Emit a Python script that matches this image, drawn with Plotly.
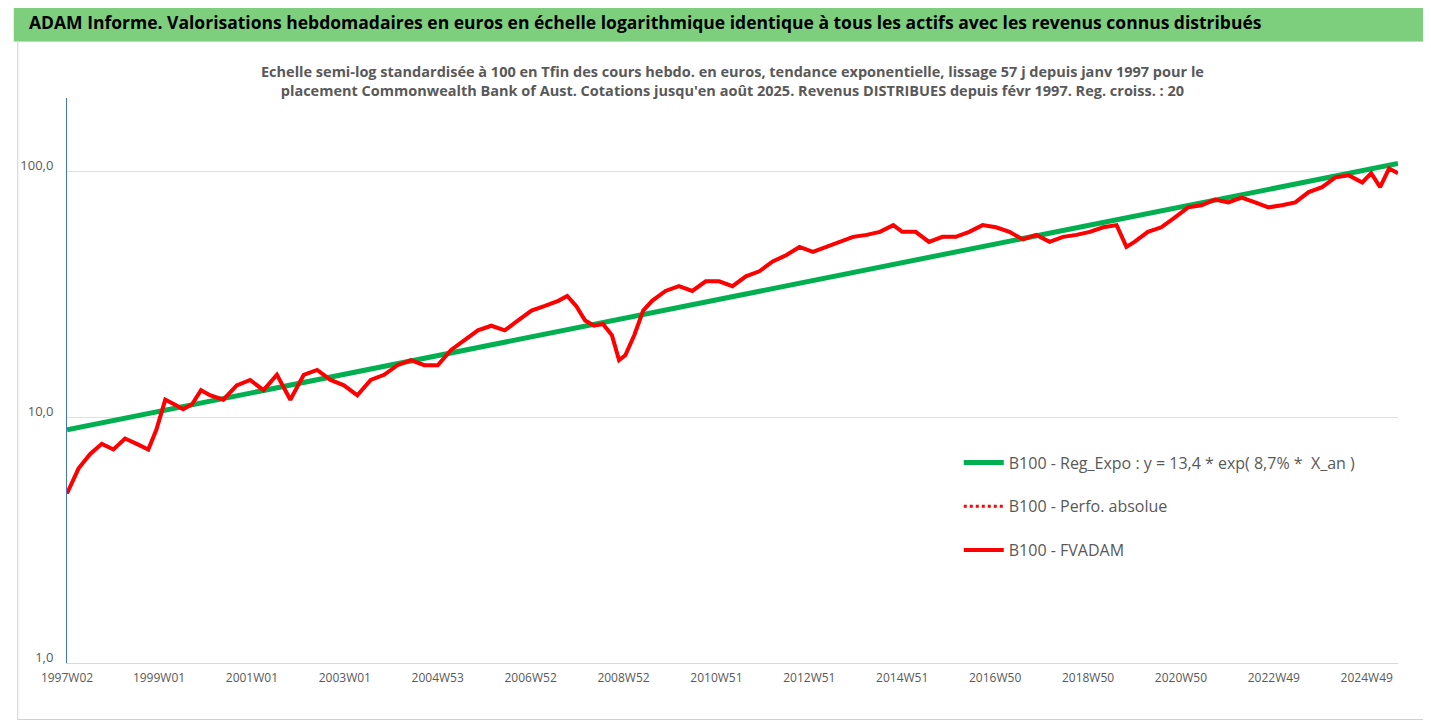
import plotly.graph_objects as go

weeks = [0,13,26,39,52,65,78,91,100,110,120,130,140,150,160,175,190,205,220,235,250,265,280,295,310,325,340,355,370,385,400,415,430,445,460,475,490,505,520,535,550,560,570,580,590,600,610,618,625,635,645,655,670,685,700,715,730,745,760,775,790,805,820,835,850,865,880,895,910,925,935,950,965,980,995,1010,1025,1040,1055,1070,1085,1100,1115,1130,1145,1160,1175,1186,1195,1210,1225,1240,1255,1270,1285,1300,1315,1330,1345,1360,1375,1390,1405,1420,1435,1450,1460,1470,1480,1490]
fvadam = [4.9,6.2,7.1,7.8,7.4,8.2,7.8,7.4,8.9,11.8,11.3,10.8,11.3,12.9,12.3,11.8,13.5,14.2,12.9,14.9,11.8,14.9,15.6,14.2,13.5,12.3,14.2,14.9,16.3,17.1,16.3,16.3,18.8,20.6,22.6,23.6,22.6,24.8,27.2,28.4,29.8,31.2,28.4,24.8,23.6,24.0,21.6,17.1,17.9,21.6,27.2,29.8,32.7,34.2,32.7,35.8,35.8,34.2,37.5,39.3,43.1,45.7,49.4,47.2,49.4,51.8,54.3,55.3,56.9,60.6,56.9,56.9,51.8,54.3,54.3,56.9,60.6,59.4,56.9,53.0,55.3,51.8,54.3,55.3,56.9,59.4,60.6,49.4,51.8,56.9,59.4,65.0,71.6,73.0,77.0,75.0,78.5,75.0,71.6,73.0,75.0,82.6,86.5,94.8,96.6,90.4,98.6,86.5,103.0,98.6]
trend_x = [0, 1490]
trend_y = [8.9, 108.0]
tick_pos = [0,103,207,311,415,519,623,727,831,935,1039,1143,1247,1351,1455]
tick_lab = ["1997W02","1999W01","2001W01","2003W01","2004W53","2006W52","2008W52","2010W51","2012W51","2014W51","2016W50","2018W50","2020W50","2022W49","2024W49"]

F = "Liberation Sans Narrow, Open Sans, sans-serif"
fig = go.Figure()
fig.add_trace(go.Scatter(x=trend_x, y=trend_y, mode="lines", line=dict(color="#00b050", width=5), legendgroup="a",
                         name="B100 - Reg_Expo : y = 13,4 * exp( 8,7% *  X_an )"))
fig.add_trace(go.Scatter(x=weeks, y=fvadam, mode="lines", line=dict(color="#ff0000", width=3, dash="dot"), legendgroup="b",
                         name="B100 - Perfo. absolue"))
fig.add_trace(go.Scatter(x=weeks, y=fvadam, mode="lines", line=dict(color="#ff0000", width=4), legendgroup="c",
                         name="B100 - FVADAM"))
fig.update_layout(
    width=1431, height=721, margin=dict(l=53, r=41, t=90, b=66),
    paper_bgcolor="white", plot_bgcolor="white", font=dict(family=F, size=13, color="#595959"),
    showlegend=True,
    legend=dict(x=0.67, y=0.385, xanchor="left", yanchor="top", font=dict(size=16, color="#595959"),
                bgcolor="rgba(0,0,0,0)", tracegroupgap=20, itemwidth=40),
    shapes=[dict(type="rect", xref="paper", yref="paper", x0=-0.04, x1=1.03, y0=1.1, y1=1.165,
                 fillcolor="#7dcf7d", line_width=0, layer="below"),
            dict(type="rect", xref="paper", yref="paper", x0=-0.037, x1=1.028, y0=-0.1, y1=1.1,
                 line=dict(color="#d0d0d0", width=1))],
    annotations=[
        dict(text="<b>ADAM Informe. Valorisations hebdomadaires en euros en échelle logarithmique identique à tous les actifs avec les revenus connus distribués</b>",
             xref="paper", yref="paper", x=-0.03, y=1.135, xanchor="left", yanchor="middle", showarrow=False,
             font=dict(size=17.5, color="#000000", family=F)),
        dict(text="<b>Echelle semi-log standardisée à 100 en Tfin des cours hebdo. en euros, tendance exponentielle, lissage 57 j depuis janv 1997 pour le<br>placement Commonwealth Bank of Aust. Cotations jusqu'en août 2025. Revenus DISTRIBUES depuis févr 1997. Reg. croiss. : 20</b>",
             xref="paper", yref="paper", x=0.5, y=1.03, xanchor="center", yanchor="middle", showarrow=False,
             font=dict(size=14.5, color="#595959", family=F)),
    ],
)
fig.update_xaxes(range=[0, 1490], tickvals=tick_pos, ticktext=tick_lab, showgrid=False, zeroline=False,
                 showline=True, linecolor="#d9d9d9", ticks="", tickfont=dict(size=12), ticklabelstandoff=4)
fig.update_yaxes(type="log", range=[0, 2.3], tickvals=[1, 10, 100], ticktext=["1,0", "10,0", "100,0"],
                 showgrid=True, gridcolor="#e0e0e0", showline=True, linecolor="#4472c4", zeroline=False,
                 tickfont=dict(size=13), ticklabelstandoff=10, ticklabelshift=-6)
fig.write_html("out.html")
